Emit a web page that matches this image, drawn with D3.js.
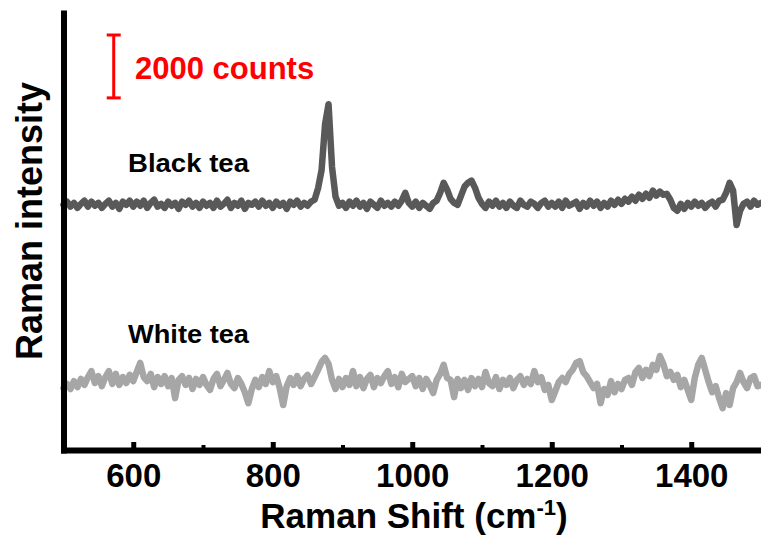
<!DOCTYPE html>
<html>
<head>
<meta charset="utf-8">
<script src="https://cdn.jsdelivr.net/npm/d3@7"></script>
<style>
  body { margin: 0; background: #fff; }
  svg { display: block; }
  text { font-family: "Liberation Sans", Arial, sans-serif; font-weight: bold; }
</style>
</head>
<body>
<div id="chart"></div>
<script>
// Raman shift sampling grid (cm-1)
const shiftStart = 500;
const shiftStep = 5;

// intensities in counts, one value per 5 cm-1 from 500 to 1500
const blackTea = [
  7800,7900,7740,7860,7700,7830,7930,7740,7900,7770,7860,7700,7830,7930,7740,7860,7670,7900,7800,7930,
  7740,7900,7770,7930,7700,7860,7960,7740,7830,7700,7900,7770,7860,7670,7900,7800,7930,7740,7860,7700,
  7900,7770,7860,7700,7930,7740,7830,7960,7700,7860,7770,7930,7670,7860,7800,7900,7740,7930,7770,7860,
  7700,7900,7770,7860,7670,7900,7800,7930,7740,7860,7770,7900,
  7960,8330,8900,10360,11000,9000,8060,7770,
  7860,7700,7900,7770,7930,7740,7860,7670,7900,7800,7700,7930,7770,7860,7740,7900,7770,7930,8180,7860,
  7740,7900,7700,7860,7770,7670,7860,7930,8180,8500,8280,7990,7860,7800,8090,8380,8500,8570,8340,8020,
  7830,7700,7900,7770,7930,7740,7860,7700,7900,7770,7700,7930,7800,7740,7900,7830,7700,7860,7930,7740,
  7860,7740,7900,7700,7930,7770,7830,7900,7670,7860,7740,7930,7770,7900,7700,7860,7740,7930,7800,7960,
  7830,7990,7900,8060,7930,8120,7990,8150,8020,8250,8090,8220,8120,8150,7960,7700,7610,7830,7670,7860,
  7740,7900,7770,7860,7700,7830,7900,7740,7930,7960,8180,8500,8250,7160,7610,7830,7900,7740,7930,7800,
  7860
];

const whiteTea = [
  1970,2100,1940,2190,2000,2260,2070,2320,2510,2130,2350,2030,2320,2510,2100,2420,2070,2320,2130,2390,
  2190,2480,2770,2320,2190,2420,2000,2320,2100,2350,2030,2290,1650,2230,2350,2070,2290,1940,2260,2070,
  2320,2070,1910,2260,2420,2030,2230,2450,2100,1970,2290,2100,1840,1490,1940,2230,2000,2320,2100,2510,
  2160,2350,1970,1430,2030,2290,2070,2350,2030,2260,2390,2100,2320,2550,2800,2930,2740,2230,1940,2260,
  2000,2290,2070,2510,2030,2320,1970,2260,2390,2000,2290,2130,2350,2510,2100,2320,2000,2420,2160,2260,
  2350,2030,2290,1940,2260,2070,1810,2230,2420,2710,2290,2230,1680,2260,1970,2230,1910,2290,2030,2260,
  2000,2480,2130,2030,2320,1940,2230,2070,2290,1970,2230,2350,2070,2260,2100,2510,2160,2320,1910,2070,
  1590,1870,2160,2290,2160,2420,2550,2770,2830,2480,2350,2160,1970,2100,1490,1940,1750,2190,1840,2100,
  1940,2230,2290,2070,2480,2610,2290,2550,2350,2710,2550,2990,2740,2350,2480,2230,2390,2000,2230,1910,
  1590,2290,2710,2930,2550,2160,1840,2030,1650,1330,1810,1430,1970,2160,2450,2160,1970,2290,2350,2030,
  2070
];

const seriesNames = ['Black tea', 'White tea'];
const seriesColors = ['#595959', '#a6a6a6'];
const xTicks = [600, 800, 1000, 1200, 1400];
const xMinorTicks = [700, 900, 1100, 1300];
const scaleBarCounts = 2000;

class RamanChart {

  constructor(containerEl, props) {
    this.props = props;
    const { width, height } = props;
    this.svg = d3.select(containerEl)
      .append('svg')
      .attr('width', width)
      .attr('height', height)
      .style('background-color', 'white');
    this.draw();
  }

  draw() {
    const { svg } = this;

    const x = d3.scaleLinear().domain([500, 1500]).range([63.5, 761]);
    const y = d3.scaleLinear().domain([0, 13900]).range([450, 13]);

    const line = d3.line()
      .x((d, i) => x(shiftStart + i * shiftStep))
      .y(d => y(d));

    const series = [blackTea, whiteTea];
    svg.selectAll('path.spectrum')
      .data(series)
      .join('path')
      .attr('class', 'spectrum')
      .attr('fill', 'none')
      .attr('stroke', (d, i) => seriesColors[i])
      .attr('stroke-width', 6.5)
      .attr('stroke-linejoin', 'round')
      .attr('stroke-linecap', 'round')
      .attr('d', line);

    // series labels
    svg.selectAll('text.series-label')
      .data(seriesNames)
      .join('text')
      .attr('class', 'series-label')
      .attr('x', 128)
      .attr('y', (d, i) => i === 0 ? 172 : 343)
      .attr('font-size', 26)
      .attr('textLength', 121)
      .attr('lengthAdjust', 'spacingAndGlyphs')
      .attr('fill', '#000')
      .text(d => d);

    // x axis
    const xAxis = svg.append('g')
      .attr('transform', 'translate(0,450)')
      .call(d3.axisBottom(x)
        .tickValues(xTicks)
        .tickFormat(d3.format('d'))
        .tickSize(-8)
        .tickSizeOuter(0)
        .tickPadding(14));
    xAxis.select('.domain')
      .attr('stroke', '#000')
      .attr('stroke-width', 6)
      .attr('stroke-linecap', 'square');
    xAxis.selectAll('.tick line').attr('stroke', '#000').attr('stroke-width', 5);
    xAxis.selectAll('.tick text')
      .attr('font-size', 33)
      .attr('fill', '#000');

    svg.append('g')
      .attr('transform', 'translate(0,450)')
      .call(d3.axisBottom(x).tickValues(xMinorTicks).tickSize(-5).tickFormat(''))
      .call(g => g.select('.domain').remove())
      .selectAll('.tick line').attr('stroke', '#000').attr('stroke-width', 4);

    // y axis (no ticks)
    const yAxis = svg.append('g')
      .attr('transform', 'translate(63.5,0)')
      .call(d3.axisLeft(y).tickValues([]).tickSizeOuter(0));
    yAxis.select('.domain')
      .attr('stroke', '#000')
      .attr('stroke-width', 6)
      .attr('stroke-linecap', 'square');

    // axis titles
    const xTitle = svg.append('text')
      .attr('x', 414)
      .attr('y', 528)
      .attr('text-anchor', 'middle')
      .attr('font-size', 35)
      .attr('fill', '#000');
    xTitle.append('tspan').text('Raman Shift (cm');
    xTitle.append('tspan').attr('font-size', 22).attr('dy', -13).text('-1');
    xTitle.append('tspan').attr('dy', 13).text(')');

    svg.append('text')
      .attr('transform', 'translate(42,221) rotate(-90)')
      .attr('text-anchor', 'middle')
      .attr('font-size', 36)
      .attr('fill', '#000')
      .text('Raman intensity');

    // scale bar
    const barX = x(572);
    const barTop = y(13200);
    const barBottom = y(13200 - scaleBarCounts);
    const bar = svg.append('g').attr('stroke', '#ff0000').attr('stroke-width', 3);
    bar.append('line').attr('x1', barX).attr('x2', barX).attr('y1', barTop).attr('y2', barBottom);
    bar.append('line').attr('x1', barX - 7).attr('x2', barX + 7).attr('y1', barTop).attr('y2', barTop);
    bar.append('line').attr('x1', barX - 7).attr('x2', barX + 7).attr('y1', barBottom).attr('y2', barBottom);

    svg.append('text')
      .attr('x', 135)
      .attr('y', 79)
      .attr('font-size', 31)
      .attr('fill', '#ff0000')
      .text(scaleBarCounts + ' counts');
  }
}

new RamanChart(document.getElementById('chart'), { width: 761, height: 540 });
</script>
</body>
</html>
